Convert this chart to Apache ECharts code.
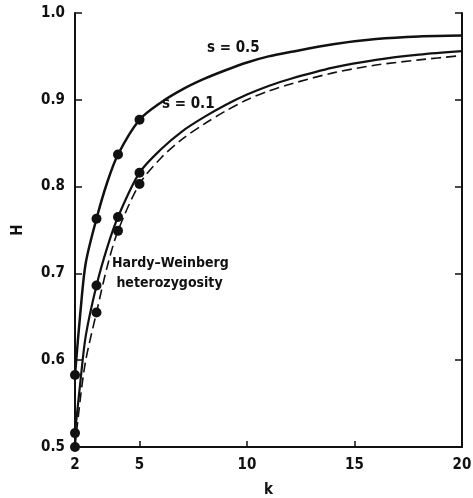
<!DOCTYPE html>
<html>
<head>
<meta charset="utf-8">
<script src="https://cdn.jsdelivr.net/npm/echarts@6/dist/echarts.min.js"></script>
<style>
  html, body { margin: 0; padding: 0; background: #fff; }
  #chart { width: 473px; height: 498px; }
</style>
</head>
<body>
<div id="chart"></div>
<script>
// values
var kTicks = [2, 5, 10, 15, 20];

var kCurve = [2, 2.25, 2.5, 3, 3.5, 4, 5, 6, 7, 8, 9, 10, 11, 12, 14, 16, 18, 20];
var hS05 = [0.583, 0.655, 0.712, 0.763, 0.805, 0.837, 0.877, 0.897, 0.912, 0.924, 0.934, 0.943, 0.950, 0.955, 0.964, 0.970, 0.973, 0.974];
var hS01 = [0.516, 0.575, 0.628, 0.686, 0.730, 0.765, 0.816, 0.843, 0.864, 0.880, 0.894, 0.906, 0.916, 0.924, 0.937, 0.946, 0.952, 0.956];
var hHW = [0.500, 0.556, 0.600, 0.655, 0.708, 0.749, 0.803, 0.833, 0.855, 0.872, 0.887, 0.900, 0.910, 0.918, 0.931, 0.940, 0.946, 0.951];

var kDots = [2, 3, 4, 5];
var dotS05 = [0.583, 0.763, 0.837, 0.877];
var dotS01 = [0.516, 0.686, 0.765, 0.816];
var dotHW = [0.500, 0.655, 0.749, 0.803];

function pairs(xs, ys) {
  return xs.map(function (x, i) { return [x, ys[i]]; });
}

var chart = echarts.init(document.getElementById("chart"));
var font = "DejaVu Sans Condensed, DejaVu Sans, sans-serif";

chart.setOption({
  animation: false,
  grid: { left: 75, right: 11, top: 13, bottom: 51, outerBoundsMode: "none", containLabel: false },
  xAxis: {
    type: "value",
    min: 2,
    max: 20,
    name: "k",
    nameLocation: "middle",
    nameGap: 36,
    nameTextStyle: { color: "#111", fontSize: 15, fontWeight: "bold", fontFamily: font },
    axisLine: { lineStyle: { color: "#111", width: 2 } },
    axisTick: { inside: true, length: 6, lineStyle: { color: "#111", width: 1.5 },
      customValues: kTicks },
    axisLabel: { customValues: kTicks, color: "#111", fontSize: 15, fontWeight: "bold",
      fontFamily: font, margin: 11 },
    splitLine: { show: false }
  },
  yAxis: [
    {
      type: "value",
      min: 0.5,
      max: 1.0,
      interval: 0.1,
      name: "H",
      nameLocation: "middle",
      nameGap: 49,
      nameRotate: 90,
      nameTextStyle: { color: "#111", fontSize: 15, fontWeight: "bold", fontFamily: font },
      axisLine: { show: true, lineStyle: { color: "#111", width: 2 } },
      axisTick: { show: true, inside: true, length: 7, lineStyle: { color: "#111", width: 1.5 } },
      axisLabel: {
        color: "#111", fontSize: 15, fontWeight: "bold", fontFamily: font, margin: 10,
        formatter: function (v) { return v.toFixed(1); }
      },
      splitLine: { show: false }
    },
    {
      type: "value",
      min: 0.5,
      max: 1.0,
      interval: 0.1,
      position: "right",
      axisLine: { show: true, lineStyle: { color: "#111", width: 2 } },
      axisTick: { show: true, inside: true, length: 7, lineStyle: { color: "#111", width: 1.5 } },
      axisLabel: { show: false },
      splitLine: { show: false }
    }
  ],
  series: [
    {
      type: "line", data: pairs(kCurve, hS05), smooth: 0.3, showSymbol: false,
      lineStyle: { color: "#111", width: 2.5 }
    },
    {
      type: "line", data: pairs(kCurve, hS01), smooth: 0.3, showSymbol: false,
      lineStyle: { color: "#111", width: 2.2 }
    },
    {
      type: "line", data: pairs(kCurve, hHW), smooth: 0.3, showSymbol: false,
      lineStyle: { color: "#111", width: 1.6, type: [10, 5] }
    },
    {
      type: "scatter", data: pairs(kDots, dotS05).concat(pairs(kDots, dotS01), pairs(kDots, dotHW)),
      symbolSize: 10, itemStyle: { color: "#111", opacity: 1 }
    }
  ],
  graphic: [
    { type: "text", left: 207, top: 41,
      style: { text: "s = 0.5", fill: "#111", font: "bold 15px " + font } },
    { type: "text", left: 162, top: 97,
      style: { text: "s = 0.1", fill: "#111", font: "bold 15px " + font } },
    { type: "text", left: 112, top: 253,
      style: { text: "Hardy\u2013Weinberg\n heterozygosity", fill: "#111",
        font: "bold 14px " + font, lineHeight: 20 } }
  ]
});
</script>
</body>
</html>
